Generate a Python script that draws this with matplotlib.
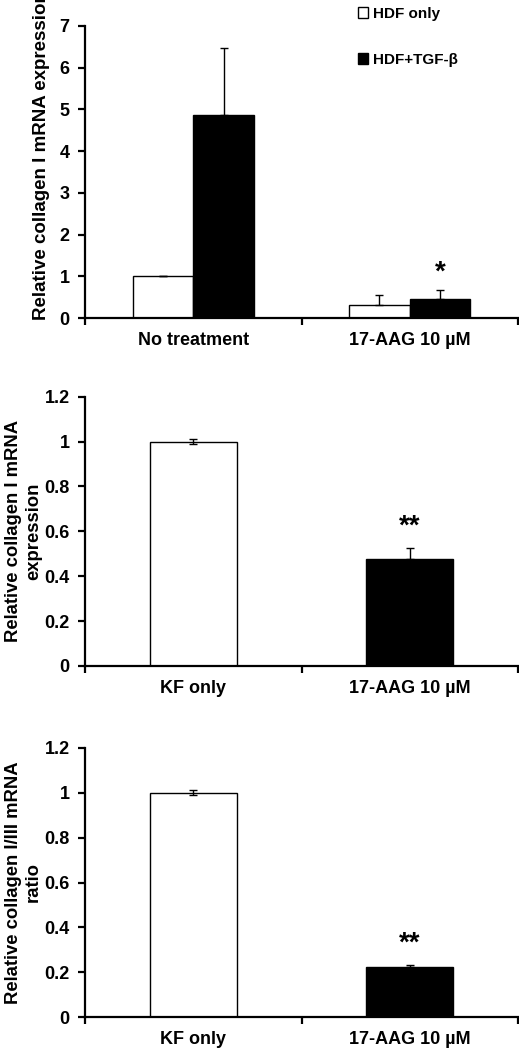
import matplotlib
matplotlib.use("Agg")
import matplotlib.pyplot as plt
import numpy as np

plt.rcParams['font.family'] = ['Liberation Sans', 'DejaVu Sans']
plt.rcParams['font.weight'] = 'bold'

# ---- Panel A data ----
groups_a = ["No treatment", "17-AAG 10 µM"]
series_a = ["HDF only", "HDF+TGF-β"]
hdf_only = [1.0, 0.32]
hdf_only_err = [0.0, 0.24]
hdf_tgf = [4.87, 0.46]
hdf_tgf_err = [1.60, 0.21]
sig_a = ["", "*"]
yticks_a = [0, 1, 2, 3, 4, 5, 6, 7]

# ---- Panel B data ----
cats_b = ["KF only", "17-AAG 10 µM"]
vals_b = [1.0, 0.475]
err_b = [0.01, 0.05]
sig_b = ["", "**"]

# ---- Panel C data ----
cats_c = ["KF only", "17-AAG 10 µM"]
vals_c = [1.0, 0.222]
err_c = [0.01, 0.01]
sig_c = ["", "**"]
yticks_bc = [0, 0.2, 0.4, 0.6, 0.8, 1, 1.2]

W, H = 519, 1050
fig = plt.figure(figsize=(W / 100, H / 100), dpi=100)


def style_axes(ax, ncat, tick_fs, xlab_fs, labels):
    for s in ["top", "right"]:
        ax.spines[s].set_visible(False)
    for s in ["left", "bottom"]:
        ax.spines[s].set_linewidth(1.6)
        ax.spines[s].set_color("black")
    ax.set_xlim(-0.5, ncat - 0.5)
    ax.set_xticks(np.arange(ncat + 1) - 0.5)
    ax.set_xticklabels([])
    ax.set_xticks(np.arange(ncat), minor=True)
    ax.set_xticklabels(labels, minor=True, fontsize=xlab_fs, fontweight='bold')
    ax.tick_params(axis='x', which='major', direction='out', length=5, width=1.6)
    ax.tick_params(axis='x', which='minor', length=0, pad=10)
    ax.tick_params(axis='y', direction='out', length=5, width=1.6,
                   labelsize=tick_fs, pad=6)
    for t in ax.get_yticklabels():
        t.set_fontweight('bold')


# ---- Panel A ----
axA = fig.add_axes([85 / W, 1 - 318 / H, 433 / W, 292 / H])
x = np.arange(len(groups_a))
bw = 0.28
zeros = [0] * len(groups_a)
b1 = axA.bar(x - bw / 2, hdf_only, bw, color="white", edgecolor="black",
             linewidth=1.0, label=series_a[0],
             yerr=[zeros, hdf_only_err], capsize=3,
             error_kw=dict(elinewidth=1.0, capthick=1.0, ecolor="black"))
b2 = axA.bar(x + bw / 2, hdf_tgf, bw, color="black", edgecolor="black",
             linewidth=1.0, label=series_a[1],
             yerr=[zeros, hdf_tgf_err], capsize=3,
             error_kw=dict(elinewidth=1.0, capthick=1.0, ecolor="black"))
axA.set_ylim(0, 7)
axA.set_yticks(yticks_a)
axA.set_yticklabels([str(v) for v in yticks_a])
style_axes(axA, 2, 13, 13, groups_a)
for i, s in enumerate(sig_a):
    if s:
        axA.text(x[i] + bw / 2, hdf_tgf[i] + hdf_tgf_err[i] + 0.1, s,
                 ha='center', va='bottom', fontsize=20, fontweight='bold')
fig.text(42 / W, 1 - 320 / H, "Relative collagen I mRNA expression",
         rotation=90, ha='center', va='bottom', fontsize=13.5, fontweight='bold')
fig.legend(handles=[b1, b2], labels=series_a, loc='upper left',
           bbox_to_anchor=(344 / W, 1 + 7 / H), frameon=False,
           handlelength=0.7, handleheight=0.7, handletextpad=0.3,
           labelspacing=2.1, prop=dict(size=11, weight='bold'))


def simple_panel(rect, cats, vals, errs, sigs, ylabel):
    ax = fig.add_axes(rect)
    xx = np.arange(len(cats))
    colors = ["white", "black"]
    lower = [errs[0], 0]
    upper = errs
    ax.bar(xx, vals, 0.4, color=colors, edgecolor="black", linewidth=1.0,
           yerr=[lower, upper], capsize=3,
           error_kw=dict(elinewidth=1.0, capthick=1.0, ecolor="black"))
    ax.set_ylim(0, 1.2)
    ax.set_yticks(yticks_bc)
    ax.set_yticklabels([f"{v:g}" for v in yticks_bc])
    style_axes(ax, 2, 13, 13, cats)
    for i, s in enumerate(sigs):
        if s:
            ax.text(xx[i], vals[i] + errs[i] + 0.04, s, ha='center',
                    va='bottom', fontsize=20, fontweight='bold')
    ax.set_ylabel(ylabel, fontsize=13.3, fontweight='bold', linespacing=1.2)
    ax.yaxis.set_label_coords(-43 / 433, 0.5)
    return ax


simple_panel([85 / W, 1 - 666 / H, 433 / W, 269.3 / H], cats_b, vals_b, err_b,
             sig_b, "Relative collagen I mRNA\nexpression")
simple_panel([85 / W, 1 - 1017.3 / H, 433 / W, 269.6 / H], cats_c, vals_c, err_c,
             sig_c, "Relative collagen I/III mRNA\nratio")

fig.savefig("out.png", dpi=100)
